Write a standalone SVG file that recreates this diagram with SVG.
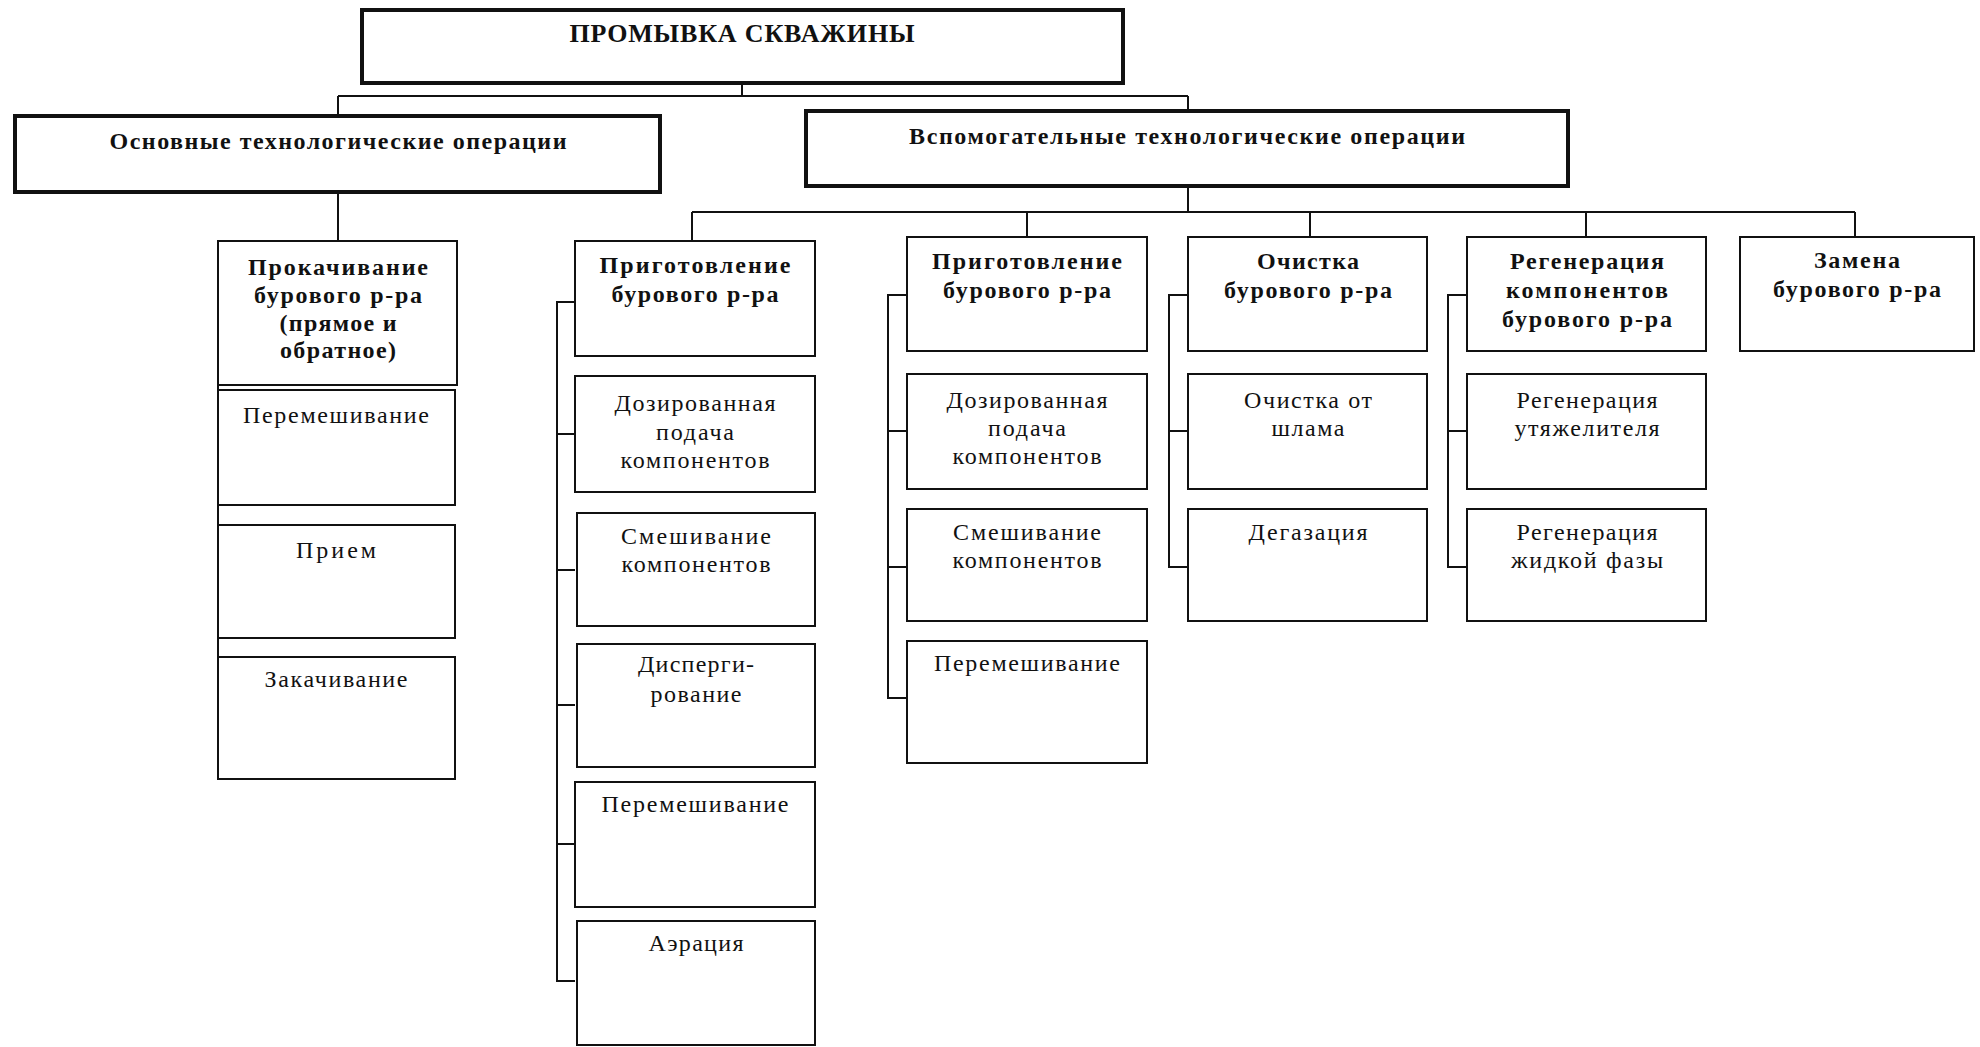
<svg xmlns="http://www.w3.org/2000/svg" width="1980" height="1047" viewBox="0 0 1980 1047">
<style>
.box{fill:#fff;stroke:#111;stroke-width:2}
.thick{stroke-width:4}
.conn{stroke:#111;stroke-width:2;fill:none}
text{font-family:"Liberation Serif","Times New Roman",serif;font-size:24px;text-anchor:middle;fill:#111}
.b{font-weight:bold;font-size:24px}
.t{font-size:26px}
</style>
<rect width="1980" height="1047" fill="#fff"/>
<g id="connectors">
<path class="conn" d="M742 83V96M338 96H1188M338 96V116M1188 96V111"/>
<path class="conn" d="M338 192V241"/>
<path class="conn" d="M1188 186V212M692 212H1855M692 212V241M1027 212V237M1310 212V237M1586 212V237M1855 212V237"/>
<path class="conn" d="M575 302H557V981H575M557 434H575M557 570H575M557 705H575M557 844H575"/>
<path class="conn" d="M907 295H888V698H907M888 431H907M888 567H907"/>
<path class="conn" d="M1188 295H1169V567H1188M1169 431H1188"/>
<path class="conn" d="M1467 295H1448V567H1467M1448 431H1467"/>
<path class="conn" d="M218 241V779"/>
</g>
<g id="n-root"><rect class="box thick" x="362" y="10" width="761" height="73"/><text class="b t" x="742" y="42" textLength="345">ПРОМЫВКА СКВАЖИНЫ</text></g>
<g id="n-main"><rect class="box thick" x="15" y="116" width="645" height="76"/><text class="b" x="338" y="149" textLength="457">Основные технологические операции</text></g>
<g id="n-aux"><rect class="box thick" x="806" y="111" width="762" height="75"/><text class="b" x="1187" y="144" textLength="556">Вспомогательные технологические операции</text></g>

<g id="n-pump"><rect class="box" x="218" y="241" width="239" height="144"/><text class="b" x="338" y="275" textLength="180">Прокачивание</text><text class="b" x="338" y="303" textLength="168">бурового р-ра</text><text class="b" x="338" y="331" textLength="117">(прямое и</text><text class="b" x="338" y="358" textLength="116">обратное)</text></g>
<g id="n-pump-mix"><rect class="box" x="218" y="390" width="237" height="115"/><text x="336" y="423" textLength="186">Перемешивание</text></g>
<g id="n-pump-recv"><rect class="box" x="218" y="525" width="237" height="113"/><text x="336" y="558" textLength="80">Прием</text></g>
<g id="n-pump-inj"><rect class="box" x="218" y="657" width="237" height="122"/><text x="336" y="687" textLength="143">Закачивание</text></g>

<g id="n-prep1"><rect class="box" x="575" y="241" width="240" height="115"/><text class="b" x="695" y="273" textLength="191">Приготовление</text><text class="b" x="695" y="302" textLength="167">бурового р-ра</text></g>
<g id="n-prep1-dose"><rect class="box" x="575" y="376" width="240" height="116"/><text x="695" y="411" textLength="161">Дозированная</text><text x="695" y="440" textLength="78">подача</text><text x="695" y="468" textLength="149">компонентов</text></g>
<g id="n-prep1-blend"><rect class="box" x="577" y="513" width="238" height="113"/><text x="696" y="544" textLength="150">Смешивание</text><text x="696" y="572" textLength="149">компонентов</text></g>
<g id="n-prep1-disp"><rect class="box" x="577" y="644" width="238" height="123"/><text x="696" y="672" textLength="116">Дисперги-</text><text x="696" y="702" textLength="91">рование</text></g>
<g id="n-prep1-mix"><rect class="box" x="575" y="782" width="240" height="125"/><text x="695" y="812" textLength="187">Перемешивание</text></g>
<g id="n-prep1-aer"><rect class="box" x="577" y="921" width="238" height="124"/><text x="696" y="951" textLength="95">Аэрация</text></g>

<g id="n-prep2"><rect class="box" x="907" y="237" width="240" height="114"/><text class="b" x="1027" y="269" textLength="190">Приготовление</text><text class="b" x="1027" y="298" textLength="168">бурового р-ра</text></g>
<g id="n-prep2-dose"><rect class="box" x="907" y="374" width="240" height="115"/><text x="1027" y="408" textLength="161">Дозированная</text><text x="1027" y="436" textLength="78">подача</text><text x="1027" y="464" textLength="149">компонентов</text></g>
<g id="n-prep2-blend"><rect class="box" x="907" y="509" width="240" height="112"/><text x="1027" y="540" textLength="148">Смешивание</text><text x="1027" y="568" textLength="149">компонентов</text></g>
<g id="n-prep2-mix"><rect class="box" x="907" y="641" width="240" height="122"/><text x="1027" y="671" textLength="186">Перемешивание</text></g>

<g id="n-clean"><rect class="box" x="1188" y="237" width="239" height="114"/><text class="b" x="1308" y="269" textLength="102">Очистка</text><text class="b" x="1308" y="298" textLength="168">бурового р-ра</text></g>
<g id="n-clean-sludge"><rect class="box" x="1188" y="374" width="239" height="115"/><text x="1308" y="408" textLength="128">Очистка от</text><text x="1308" y="436" textLength="73">шлама</text></g>
<g id="n-clean-degas"><rect class="box" x="1188" y="509" width="239" height="112"/><text x="1308" y="540" textLength="119">Дегазация</text></g>

<g id="n-regen"><rect class="box" x="1467" y="237" width="239" height="114"/><text class="b" x="1587" y="269" textLength="154">Регенерация</text><text class="b" x="1587" y="298" textLength="162">компонентов</text><text class="b" x="1587" y="327" textLength="170">бурового р-ра</text></g>
<g id="n-regen-weight"><rect class="box" x="1467" y="374" width="239" height="115"/><text x="1587" y="408" textLength="141">Регенерация</text><text x="1587" y="436" textLength="145">утяжелителя</text></g>
<g id="n-regen-liquid"><rect class="box" x="1467" y="509" width="239" height="112"/><text x="1587" y="540" textLength="141">Регенерация</text><text x="1587" y="568" textLength="152">жидкой фазы</text></g>

<g id="n-replace"><rect class="box" x="1740" y="237" width="234" height="114"/><text class="b" x="1857" y="268" textLength="86">Замена</text><text class="b" x="1857" y="297" textLength="168">бурового р-ра</text></g>
</svg>
